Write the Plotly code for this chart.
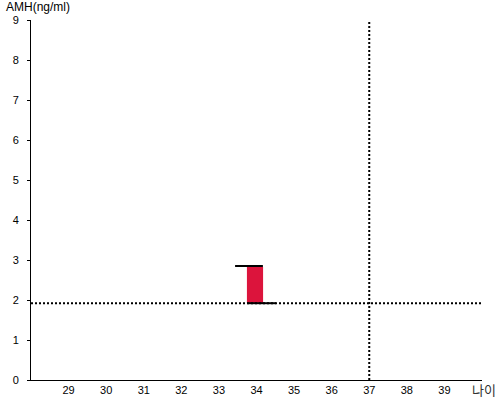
import plotly.graph_objects as go

# values
ages = [33.96]
amh_low = [1.92]
amh_high = [2.83]
bar_width = 0.43
top_line_x = [33.43, 34.17]
top_line_y = [2.85, 2.85]
bottom_line_x = [33.75, 34.52]
bottom_line_y = [1.92, 1.92]
ref_amh = 1.92
ref_age = 37
x_ticks = list(range(29, 40))
y_ticks = list(range(0, 10))

fig = go.Figure()

# reference lines
fig.add_trace(go.Scatter(x=[28, 40], y=[ref_amh, ref_amh], mode="lines",
                         line=dict(color="black", width=2, dash="2px,2px"),
                         hoverinfo="skip", showlegend=False))
fig.add_trace(go.Scatter(x=[ref_age, ref_age], y=[0, 9], mode="lines",
                         line=dict(color="black", width=2, dash="2px,2px"),
                         hoverinfo="skip", showlegend=False))

fig.add_trace(go.Bar(x=ages, y=[h - l for h, l in zip(amh_high, amh_low)],
                     base=amh_low, width=bar_width,
                     marker=dict(color="#DC143C", line=dict(width=0)),
                     showlegend=False))

fig.add_trace(go.Scatter(x=top_line_x, y=top_line_y, mode="lines",
                         line=dict(color="black", width=2), showlegend=False))
fig.add_trace(go.Scatter(x=bottom_line_x, y=bottom_line_y, mode="lines",
                         line=dict(color="black", width=2), showlegend=False))

fig.update_layout(
    width=500, height=400,
    margin=dict(l=31, r=18, t=20, b=20),
    plot_bgcolor="white", paper_bgcolor="white",
    font=dict(family="Liberation Sans, Arial", size=11, color="black"),
    xaxis=dict(range=[28, 40], tickvals=x_ticks, showgrid=False, zeroline=False,
               showline=True, linecolor="black", linewidth=1, ticks="", ticklen=0,
               automargin=False),
    yaxis=dict(range=[0, 9], tickvals=y_ticks, showgrid=False, zeroline=False,
               showline=True, linecolor="black", linewidth=1,
               ticks="outside", ticklen=3, tickcolor="black",
               ticklabelstandoff=6, automargin=False),
    annotations=[
        dict(text="AMH(ng/ml)", xref="paper", yref="paper", x=-0.06, y=1.0,
             xanchor="left", yanchor="bottom", yshift=4, showarrow=False,
             font=dict(size=12, color="black")),
        dict(text="나이", xref="paper", yref="paper", x=1.036, y=-0.027,
             xanchor="right", yanchor="middle", showarrow=False,
             font=dict(family="Noto Sans CJK KR", size=13, color="#333")),
    ],
)

# drop the default 8px body margin so the chart sits at the page corner
fig.write_html("out.html", config={"displayModeBar": False},
               post_script="document.body.style.margin='0';")
